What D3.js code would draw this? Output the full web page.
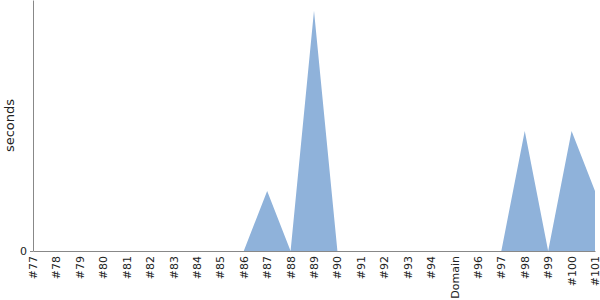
<!DOCTYPE html>
<html lang="en">
<head>
<meta charset="utf-8">
<style>
  body { margin: 0; background: #fff; }
  .axis path, .axis line { stroke: #888; }
  .axis text { fill: #222; }
</style>
</head>
<body>
<svg width="600" height="300"></svg>
<script src="https://cdn.jsdelivr.net/npm/d3@7"></script>
<script>
var categories = ['#77', '#78', '#79', '#80', '#81', '#82', '#83', '#84', '#85', '#86', '#87', '#88', '#89',
  '#90', '#91', '#92', '#93', '#94', 'Domain', '#96', '#97', '#98', '#99', '#100', '#101']
var seconds = [0, 0, 0, 0, 0, 0, 0, 0, 0, 0, 0.5, 0, 2, 0, 0, 0, 0, 0, 0, 0, 0, 1, 0, 1, 0.5]
var yMax = 2.09
var fontStack = '"DejaVu Sans", Verdana, sans-serif'

var svg = d3.select('svg')
var margin = {top: 0, right: 5, bottom: 49, left: 33}
var width = 600 - margin.left - margin.right
var height = 300 - margin.top - margin.bottom
var g = svg.append('g')
  .attr('transform', 'translate(' + margin.left + ',' + margin.top + ')')
  .style('font-family', fontStack)

var x = d3.scalePoint().domain(categories).range([0, width])
var y = d3.scaleLinear().domain([0, yMax]).range([height, 0])

var data = categories.map(function (c, i) { return {cat: c, value: seconds[i]} })

var area = d3.area()
  .x(function (d) { return x(d.cat) })
  .y0(height)
  .y1(function (d) { return y(d.value) })

g.append('path')
  .datum(data)
  .attr('fill', '#8fb2da')
  .attr('d', area)

var xAxis = g.append('g')
  .attr('class', 'axis')
  .attr('transform', 'translate(0,' + height + ')')
  .call(d3.axisBottom(x).tickSize(0).tickSizeOuter(0))
xAxis.attr('font-family', null).attr('font-size', 11)
xAxis.selectAll('text')
  .style('font-family', fontStack)
  .attr('transform', 'rotate(-90)')
  .attr('text-anchor', 'end')
  .attr('x', -5)
  .attr('y', 0)
  .attr('dy', '0.32em')

var yAxis = g.append('g')
  .attr('class', 'axis')
  .call(d3.axisLeft(y).tickValues([0]).tickFormat(d3.format('d')).tickSize(3).tickSizeOuter(0))
yAxis.attr('font-family', null).attr('font-size', 11)
yAxis.selectAll('text').style('font-family', fontStack)

g.append('text')
  .attr('transform', 'rotate(-90)')
  .attr('x', -height / 2)
  .attr('y', -19)
  .attr('text-anchor', 'middle')
  .attr('fill', '#222')
  .style('font-family', fontStack)
  .attr('font-size', 13)
  .text('seconds')
</script>
</body>
</html>
